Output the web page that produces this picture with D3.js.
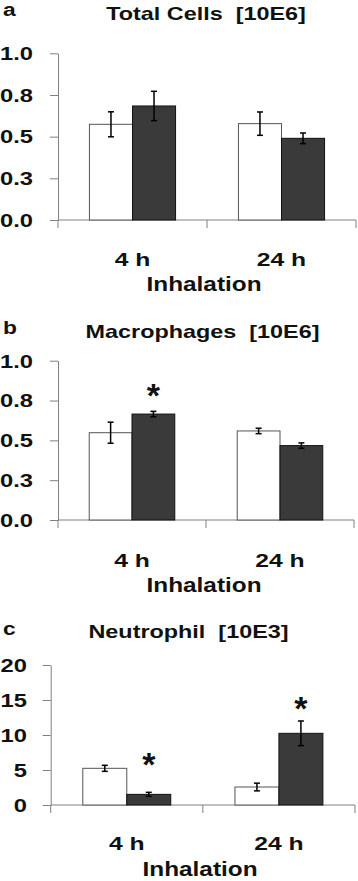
<!DOCTYPE html>
<html>
<head>
<meta charset="utf-8">
<script src="https://cdn.jsdelivr.net/npm/d3@7"></script>
<style>
  body { margin: 0; background: #fff; }
  svg { display: block; }
  text { white-space: pre; }
</style>
</head>
<body>
<svg id="chart"></svg>
<script>
// data
var categories = ["4 h", "24 h"];
var xTitle = "Inhalation";

var totalWhite = [0.574, 0.578];
var totalWhiteErr = [0.075, 0.070];
var totalDark = [0.684, 0.490];
var totalDarkErr = [0.088, 0.032];

var macroWhite = [0.548, 0.559];
var macroWhiteErr = [0.066, 0.017];
var macroDark = [0.665, 0.467];
var macroDarkErr = [0.017, 0.017];

var neutroWhite = [5.24, 2.57];
var neutroWhiteErr = [0.43, 0.55];
var neutroDark = [1.52, 10.24];
var neutroDarkErr = [0.29, 1.76];

var fractionTicks = [0, 0.25, 0.5, 0.75, 1.0];
var fractionLabels = ["0.0", "0.3", "0.5", "0.8", "1.0"];
var neutroTicks = [0, 5, 10, 15, 20];
var neutroLabels = ["0", "5", "10", "15", "20"];

// significance marks: category + height of the star
var macroStars = [{ cat: "4 h", y: 0.83 }];
var neutroStars = [{ cat: "4 h", y: 6.9 }, { cat: "24 h", y: 14.8 }];

// layout
var W = 358, H = 881;
var sAxis = "#808080";
var sFont = "'Liberation Sans', Arial, sans-serif";

var panels = [
    { letter: "a", title: "Total Cells  [10E6]", max: 1, ticks: fractionTicks, labels: fractionLabels,
      white: totalWhite, whiteErr: totalWhiteErr, dark: totalDark, darkErr: totalDarkErr, stars: [],
      left: 58, right: 356, top: 53.3, bottom: 220, labelEnd: 33,
      letterY: 16, titleX: 206, titleY: 20, catY: 266, xTitleX: 204, xTitleY: 291 },
    { letter: "b", title: "Macrophages  [10E6]", max: 1, ticks: fractionTicks, labels: fractionLabels,
      white: macroWhite, whiteErr: macroWhiteErr, dark: macroDark, darkErr: macroDarkErr, stars: macroStars,
      left: 58, right: 354, top: 360.7, bottom: 520, labelEnd: 33,
      letterY: 334, titleX: 202.5, titleY: 338, catY: 567, xTitleX: 204, xTitleY: 592 },
    { letter: "c", title: "Neutrophil  [10E3]", max: 20, ticks: neutroTicks, labels: neutroLabels,
      white: neutroWhite, whiteErr: neutroWhiteErr, dark: neutroDark, darkErr: neutroDarkErr, stars: neutroStars,
      left: 50.7, right: 355, top: 665, bottom: 805, labelEnd: 27,
      letterY: 635, titleX: 188.5, titleY: 638, catY: 850, xTitleX: 200, xTitleY: 876 }
];

var svg = d3.select("#chart").attr("width", W).attr("height", H);

// stretched bold text, the original picture is wider than tall
function label(g, text, x, y, size, sx, anchor) {
    return g.append("text")
        .attr("transform", `translate(${x},${y}) scale(${sx},1)`)
        .attr("text-anchor", anchor || "middle")
        .attr("font-family", sFont)
        .attr("font-weight", "bold")
        .attr("font-size", size)
        .attr("fill", "#111")
        .text(text);
}

panels.forEach(function(p) {
    var g = svg.append("g");

    var x = d3.scaleBand().domain(categories).range([p.left, p.right]);
    var bw = x.bandwidth();
    var xs = d3.scaleBand().domain([0, 1]).range([bw * 0.211, bw * 0.789]);
    var y = d3.scaleLinear().domain([0, p.max]).range([p.bottom, p.top]);

    // ось y
    var yAxis = g.append("g")
        .attr("transform", `translate(${p.left},0)`)
        .call(d3.axisLeft(y).tickValues(p.ticks).tickFormat((d, i) => p.labels[i]).tickSize(8).tickSizeOuter(0));
    yAxis.select(".domain").attr("stroke", sAxis);
    yAxis.selectAll(".tick line").attr("stroke", sAxis);
    yAxis.selectAll(".tick text")
        .attr("x", 0).attr("dy", null)
        .attr("transform", `translate(${p.labelEnd - p.left},6.3) scale(1.32,1)`)
        .attr("font-family", sFont)
        .attr("font-weight", "bold")
        .attr("font-size", 18)
        .attr("fill", "#111");

    // ось x, засечки по краям категорий
    var edges = categories.map(c => x(c)).concat([p.right]);
    g.append("line")
        .attr("x1", p.left).attr("x2", p.right)
        .attr("y1", y(0)).attr("y2", y(0))
        .attr("stroke", sAxis);
    g.selectAll(".xtick").data(edges).join("line")
        .attr("class", "xtick")
        .attr("x1", d => d).attr("x2", d => d)
        .attr("y1", y(0)).attr("y2", y(0) + 8)
        .attr("stroke", sAxis);

    // бары
    var rows = [];
    categories.forEach(function(c, i) {
        rows.push({ cat: c, s: 0, v: p.white[i], e: p.whiteErr[i] });
        rows.push({ cat: c, s: 1, v: p.dark[i], e: p.darkErr[i] });
    });

    g.selectAll(".bar").data(rows).join("rect")
        .attr("class", "bar")
        .attr("x", d => x(d.cat) + xs(d.s))
        .attr("width", xs.bandwidth())
        .attr("y", d => y(d.v))
        .attr("height", d => y(0) - y(d.v))
        .attr("fill", d => d.s ? "#3a3a3a" : "#fff")
        .attr("stroke", d => d.s ? "#111" : "#555")
        .attr("stroke-width", 1);

    // error bars
    var cx = d => x(d.cat) + xs(d.s) + xs.bandwidth() / 2;
    var err = g.selectAll(".err").data(rows).join("g").attr("class", "err")
        .attr("stroke", "#000").attr("stroke-width", 1.5);
    err.append("line")
        .attr("x1", cx).attr("x2", cx)
        .attr("y1", d => y(d.v - d.e)).attr("y2", d => y(d.v + d.e));
    err.append("line")
        .attr("x1", d => cx(d) - 3).attr("x2", d => cx(d) + 3)
        .attr("y1", d => y(d.v + d.e)).attr("y2", d => y(d.v + d.e));
    err.append("line")
        .attr("x1", d => cx(d) - 3).attr("x2", d => cx(d) + 3)
        .attr("y1", d => y(d.v - d.e)).attr("y2", d => y(d.v - d.e));

    // звёздочки
    p.stars.forEach(function(s) {
        var sx = x(s.cat) + xs(1) + xs.bandwidth() / 2;
        label(g, "*", sx, y(s.y) + 19, 34, 1, "middle");
    });

    // подписи
    label(g, p.letter, 3, p.letterY, 19, 1.2, "start");
    label(g, p.title, p.titleX, p.titleY, 18, 1.3, "middle");
    categories.forEach(function(c) {
        label(g, c, x(c) + bw / 2, p.catY, 19, 1.3, "middle");
    });
    label(g, xTitle, p.xTitleX, p.xTitleY, 21, 1.16, "middle");
});
</script>
</body>
</html>
